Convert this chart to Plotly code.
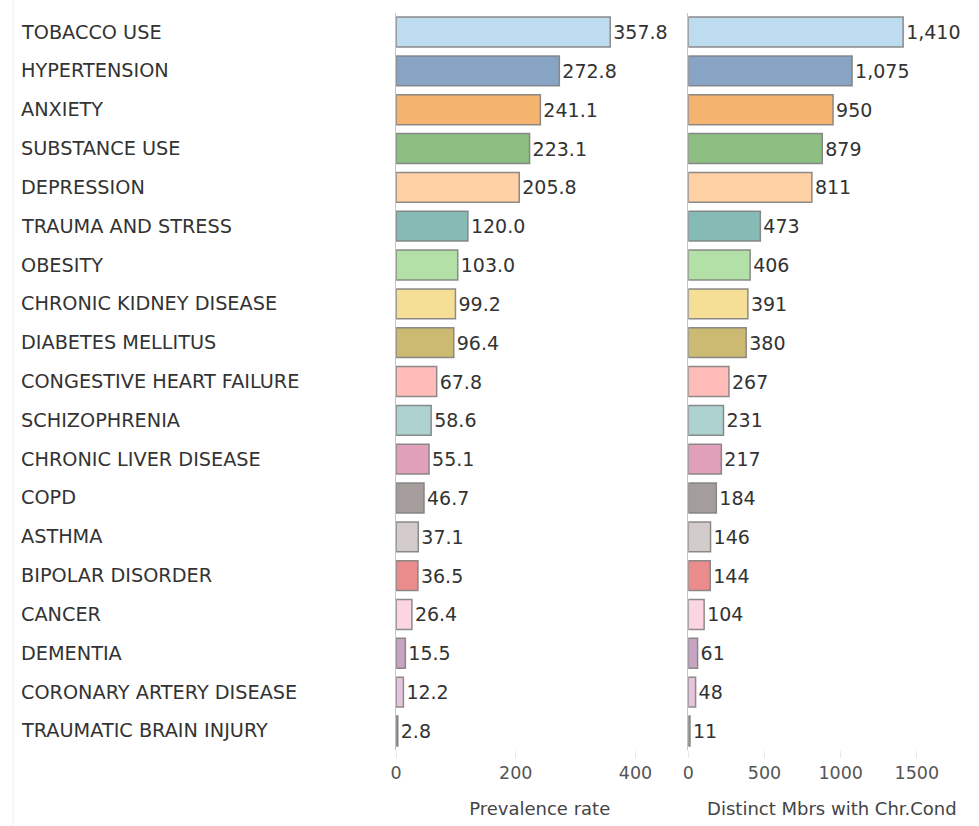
import plotly.graph_objects as go

# Chronic conditions, ordered by prevalence (top to bottom)
conditions = [
    "TOBACCO USE", "HYPERTENSION", "ANXIETY", "SUBSTANCE USE", "DEPRESSION",
    "TRAUMA AND STRESS", "OBESITY", "CHRONIC KIDNEY DISEASE", "DIABETES MELLITUS",
    "CONGESTIVE HEART FAILURE", "SCHIZOPHRENIA", "CHRONIC LIVER DISEASE", "COPD",
    "ASTHMA", "BIPOLAR DISORDER", "CANCER", "DEMENTIA", "CORONARY ARTERY DISEASE",
    "TRAUMATIC BRAIN INJURY",
]
prevalence_rate = [357.8, 272.8, 241.1, 223.1, 205.8, 120.0, 103.0, 99.2, 96.4,
                   67.8, 58.6, 55.1, 46.7, 37.1, 36.5, 26.4, 15.5, 12.2, 2.8]
distinct_members = [1410, 1075, 950, 879, 811, 473, 406, 391, 380,
                    267, 231, 217, 184, 146, 144, 104, 61, 48, 11]
bar_colors = [
    "#BEDCF0", "#88A4C5", "#F5B370", "#8DBF82", "#FFD1A4", "#85BAB5", "#B2E0A6",
    "#F5DE96", "#CDBA72", "#FFBCB8", "#AED2CF", "#E1A0BA", "#A49D9B", "#D3CCCA",
    "#EB8C8C", "#FCD5E2", "#C9A3C2", "#E6C4DD", "#BAA093",
]

W, H = 979, 826
FONT = "Verdana, DejaVu Sans, sans-serif"
TEXT = "#333333"

# horizontal layout in pixels
p1_left, p1_right = 392.5, 681.5
p2_left, p2_right = 686.5, 975.5
top_px, bottom_px = 12.6, 750.4

fig = go.Figure()

bar_style = dict(
    orientation="h",
    y=conditions,
    marker=dict(color=bar_colors, line=dict(color="rgba(128,128,128,0.9)", width=1.5)),
    width=0.77,
    textposition="outside",
    textfont=dict(family=FONT, size=19, color=TEXT),
    cliponaxis=False,
    showlegend=False,
    hoverinfo="x+y",
)

fig.add_trace(go.Bar(x=prevalence_rate, texttemplate="%{x:.1f}",
                     xaxis="x", yaxis="y", **bar_style))
fig.add_trace(go.Bar(x=distinct_members, texttemplate="%{x:,}",
                     xaxis="x2", yaxis="y2", **bar_style))

axis_x = dict(
    showgrid=False, zeroline=False, showline=False,
    ticks="outside", ticklen=7, tickcolor="#e8e8e8", tickwidth=1,
    tickfont=dict(family=FONT, size=17.5, color="#555555"),
    title_font=dict(family=FONT, size=18, color="#444444"),
    title_standoff=19,
    fixedrange=True,
)
axis_y = dict(
    type="category", categoryorder="array", categoryarray=conditions,
    autorange="reversed", showticklabels=False, showgrid=False, zeroline=False,
    showline=True, linecolor="#c4c4c4", linewidth=1, ticks="",
    domain=[1 - bottom_px / H, 1 - top_px / H],
    fixedrange=True,
)

fig.update_layout(
    width=W, height=H,
    margin=dict(l=0, r=0, t=0, b=0),
    paper_bgcolor="white", plot_bgcolor="white",
    bargap=0.23,
    font=dict(family=FONT, color=TEXT),
    xaxis=dict(axis_x, domain=[p1_left / W, p1_right / W], range=[0, 480],
               tickvals=[0, 200, 400], title_text="Prevalence rate", anchor="y"),
    xaxis2=dict(axis_x, domain=[p2_left / W, p2_right / W], range=[0, 1885],
                tickvals=[0, 500, 1000, 1500], title_text="Distinct Mbrs with Chr.Cond",
                anchor="y2"),
    yaxis=dict(axis_y, anchor="x"),
    yaxis2=dict(axis_y, anchor="x2", matches="y"),
)

# category labels, left aligned in the first column
for name in conditions:
    fig.add_annotation(
        x=13.5 / W, xref="paper", xanchor="left",
        y=name, yref="y", yanchor="middle",
        text=name, showarrow=False,
        font=dict(family=FONT, size=19.25, color=TEXT),
    )

# thin frame line on the far left
fig.add_shape(type="line", xref="paper", yref="paper",
              x0=7 / W, x1=7 / W, y0=0, y1=1,
              line=dict(color="#eeeeee", width=1))

fig.write_html("out.html")
